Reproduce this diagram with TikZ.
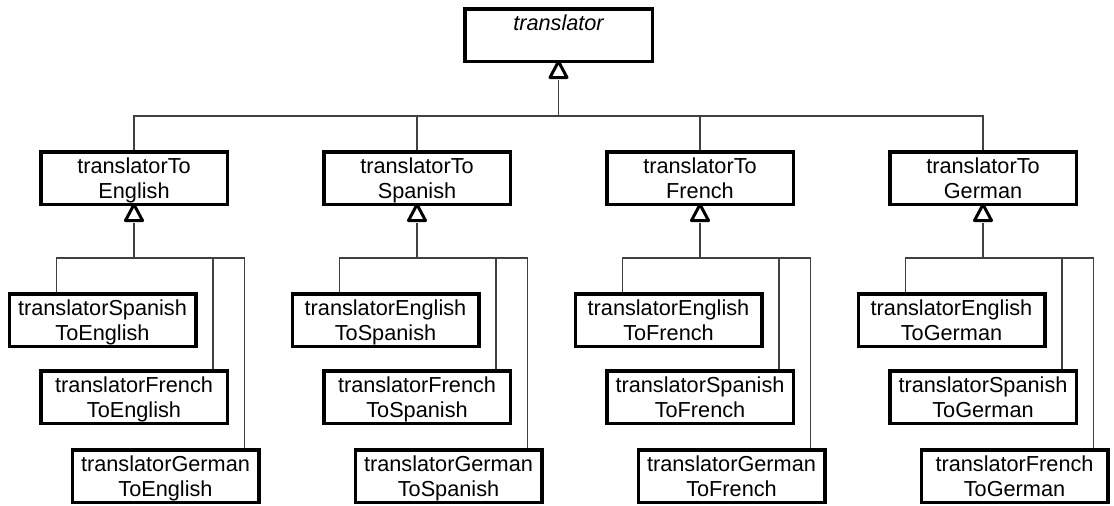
\documentclass[tikz,border=0pt]{standalone}
\usepackage{fontspec}
\setmainfont{Liberation Sans}
\newcommand{\lnA}{\rule{0pt}{20pt}}
\newcommand{\lnB}{\rule[-5pt]{0pt}{5pt}}
\tikzset{
  cls/.style={draw=black, line width=3.5pt, fill=white, minimum width=186.5pt, minimum height=52.5pt,
    inner sep=0pt, align=center, font=\fontsize{21.7pt}{25pt}\selectfont},
  lbl/.style={inner sep=0pt, font=\fontsize{21.7pt}{25pt}\selectfont\itshape},
  conn/.style={draw=black!75, line width=1.2pt},
  tri/.style={draw=black, fill=white, line width=3pt, line join=round}
}
\newcommand{\gentri}[1]{%
  \draw[tri] ([yshift=1.5pt]#1.south) -- ++(-8.5,16) -- ++(17,0) -- cycle;}
\begin{document}
\begin{tikzpicture}[x=1pt, y=-1pt]
\useasboundingbox (0,0) rectangle (1114,506);
% root
\node[cls, minimum width=187.5pt] (top) at (558.5,35) {};
\node[lbl] (toplbl) at (558.5,23) {translator};
% level 2
\node[cls] (toE) at (134,178) {\lnA translatorTo\\English\lnB};
\node[cls] (toS) at (417,178) {\lnA translatorTo\\Spanish\lnB};
\node[cls] (toF) at (700,178) {\lnA translatorTo\\French\lnB};
\node[cls] (toG) at (983,178) {\lnA translatorTo\\German\lnB};
\coordinate (b0) at (558.5,116);
\draw[conn] (b0) -- ([yshift=-17pt]top.south);
\foreach \n in {toE,toS,toF,toG} \draw[conn] (\n.north) |- (b0);
\gentri{top}
% level 3 boxes
\foreach \p/\c/\a/\b/\d/\t in {E/134/Spanish/French/German/English, S/417/English/French/German/Spanish,
                            F/700/English/Spanish/German/French, G/983/English/Spanish/French/German}{
  \node[cls] (\p1) at (\c-31.5,320) {\lnA translator\a\\To\t\lnB};
  \node[cls] (\p2) at (\c,397) {\lnA translator\b\\To\t\lnB};
  \node[cls] (\p3) at (\c+31.5,476) {\lnA translator\d\\To\t\lnB};
  \coordinate (j\p) at (\c,258);
  \draw[conn] (j\p) -- ([yshift=-17pt]to\p.south);
  \draw[conn] ([xshift=-46pt]\p1.north) |- (j\p);
  \draw[conn] ([xshift=79pt]\p2.north) |- (j\p);
  \draw[conn] ([xshift=79pt]\p3.north) |- (j\p);
  \gentri{to\p}
}
\end{tikzpicture}
\end{document}
